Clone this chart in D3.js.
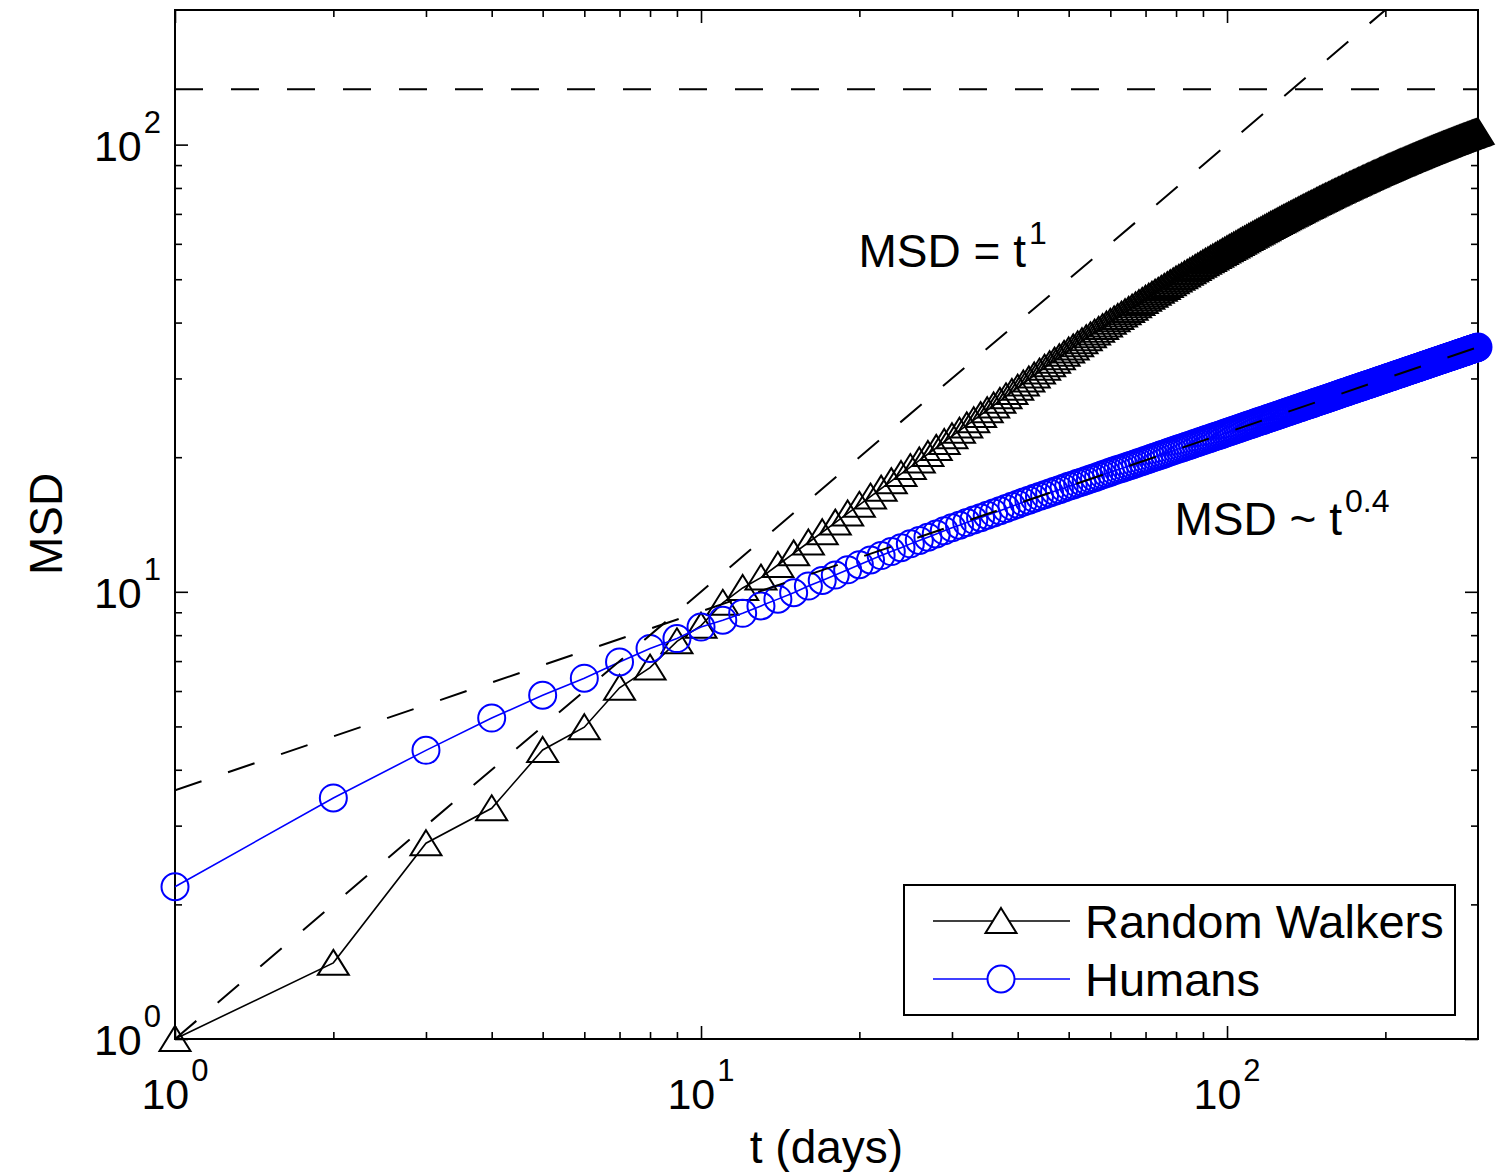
<!DOCTYPE html>
<html><head><meta charset="utf-8">
<script src="https://cdn.jsdelivr.net/npm/d3@7"></script>
<style>
body{margin:0;background:#fff}
svg{display:block}
text{font-family:"Liberation Sans",Arial,Helvetica,sans-serif;fill:#000}
</style>
</head><body>
<svg id="chart" width="1509" height="1172"></svg>
<script>
// ---------- data ----------
const days = d3.range(1, 301);
const walkers = [
1.0,1.48,2.74,3.28,4.43,4.98,6.1,6.77,7.75,8.4,9.45,10.2,
10.76,11.48,12.19,12.89,13.59,14.28,14.97,15.65,16.33,17.01,17.68,18.35,19.01,19.67,20.33,20.98,21.63,22.28,22.92,23.56,24.2,24.84,25.47,26.1,26.73,27.36,27.99,28.61,
29.23,29.85,30.46,31.08,31.7,32.29,32.88,33.46,34.05,34.64,
35.2,35.77,36.33,36.9,37.46,38.0,38.54,39.08,39.62,40.16,
40.67,41.17,41.68,42.19,42.7,43.2,43.71,44.22,44.72,45.23,
45.7,46.17,46.64,47.11,47.58,48.05,48.52,48.99,49.46,49.93,
50.37,50.8,51.24,51.68,52.12,52.55,52.99,53.43,53.86,54.3,
54.71,55.11,55.52,55.93,56.34,56.74,57.15,57.56,57.96,58.37,
58.75,59.13,59.51,59.89,60.28,60.66,61.04,61.42,61.8,62.18,
62.54,62.9,63.25,63.61,63.97,64.33,64.69,65.04,65.4,65.76,
66.1,66.43,66.77,67.11,67.45,67.78,68.12,68.46,68.79,69.13,
69.45,69.77,70.08,70.4,70.72,71.04,71.36,71.67,71.99,72.31,
72.61,72.91,73.21,73.51,73.81,74.11,74.41,74.71,75.01,75.31,
75.6,75.88,76.17,76.45,76.74,77.03,77.31,77.6,77.88,78.17,
78.44,78.71,78.98,79.25,79.52,79.79,80.06,80.33,80.6,80.87,
81.13,81.38,81.64,81.9,82.16,82.41,82.67,82.93,83.18,83.44,
83.69,83.93,84.18,84.42,84.67,84.92,85.16,85.41,85.65,85.9,
86.13,86.37,86.6,86.83,87.07,87.3,87.53,87.76,88.0,88.23,
88.45,88.68,88.9,89.13,89.35,89.57,89.8,90.02,90.25,90.47,
90.68,90.9,91.11,91.33,91.54,91.75,91.97,92.18,92.4,92.61,
92.81,93.02,93.22,93.43,93.63,93.83,94.04,94.24,94.45,94.65,
94.85,95.04,95.24,95.43,95.63,95.83,96.02,96.22,96.41,96.61,
96.8,96.99,97.17,97.36,97.55,97.74,97.93,98.11,98.3,98.49,
98.67,98.85,99.03,99.21,99.4,99.58,99.76,99.94,100.12,100.3,
100.47,100.65,100.82,100.99,101.17,101.34,101.51,101.68,101.86,102.03,
102.2,102.36,102.53,102.7,102.87,103.03,103.2,103.37,103.53,103.7,
103.86,104.02,104.18,104.34,104.5,104.66,104.82,104.98,105.14,105.3,
105.46,105.61,105.77,105.92,106.08,106.23,106.39,106.54,106.7,106.85
];
const humans = [
2.19,3.46,4.42,5.22,5.87,6.41,6.97,7.47,7.86,8.34,
8.64,8.95,9.3,9.63,9.95,10.3,10.6,10.9,11.2,11.5,
11.78,12.05,12.3,12.55,12.8,13.03,13.25,13.47,13.69,13.9,
14.09,14.28,14.47,14.65,14.84,15.0,15.18,15.35,15.53,15.7,
15.87,16.03,16.18,16.33,16.48,16.63,16.78,16.92,17.06,17.21,
17.34,17.48,17.61,17.74,17.87,18.0,18.13,18.26,18.39,18.52,
18.64,18.76,18.87,18.99,19.11,19.22,19.34,19.46,19.57,19.69,
19.8,19.91,20.02,20.13,20.24,20.34,20.45,20.56,20.67,20.78,
20.88,20.98,21.08,21.18,21.28,21.38,21.48,21.58,21.68,21.78,
21.87,21.97,22.06,22.15,22.25,22.34,22.43,22.52,22.62,22.71,
22.8,22.89,22.98,23.07,23.16,23.24,23.33,23.42,23.51,23.6,
23.68,23.77,23.85,23.93,24.02,24.1,24.18,24.26,24.35,24.43,
24.51,24.59,24.67,24.75,24.83,24.91,24.99,25.07,25.15,25.23,
25.31,25.38,25.46,25.53,25.61,25.69,25.76,25.84,25.91,25.99,
26.06,26.13,26.21,26.28,26.35,26.42,26.49,26.57,26.64,26.71,
26.78,26.85,26.92,26.99,27.06,27.13,27.2,27.27,27.34,27.41,
27.48,27.55,27.61,27.68,27.75,27.82,27.89,27.95,28.02,28.09,
28.16,28.22,28.29,28.35,28.42,28.48,28.55,28.61,28.68,28.74,
28.8,28.86,28.93,28.99,29.05,29.11,29.17,29.24,29.3,29.36,
29.42,29.48,29.54,29.6,29.67,29.73,29.79,29.85,29.91,29.97,
30.03,30.09,30.15,30.21,30.27,30.32,30.38,30.44,30.5,30.56,
30.62,30.68,30.73,30.79,30.85,30.91,30.97,31.02,31.08,31.14,
31.2,31.25,31.31,31.36,31.42,31.47,31.53,31.58,31.64,31.69,
31.75,31.8,31.86,31.91,31.97,32.02,32.08,32.13,32.19,32.24,
32.29,32.35,32.4,32.45,32.51,32.56,32.61,32.66,32.72,32.77,
32.82,32.87,32.93,32.98,33.03,33.08,33.13,33.19,33.24,33.29,
33.34,33.39,33.44,33.49,33.54,33.59,33.64,33.69,33.74,33.79,
33.84,33.89,33.94,33.99,34.04,34.09,34.14,34.19,34.24,34.29,
34.34,34.39,34.43,34.48,34.53,34.58,34.63,34.67,34.72,34.77,
34.82,34.87,34.91,34.96,35.01,35.06,35.11,35.15,35.2,35.25
];
const refDays = [1, 300];
const linearRef = [1, 300];      // MSD = t
const powerRef = [3.6, 35.25];   // MSD ~ t^0.4
const plateau = 133;             // horizontal dashed level
const majorTicks = [1, 10, 100];
const tickExponents = ["0", "1", "2"];
const xMinorTicks = [2,3,4,5,6,7,8,9,20,30,40,50,60,70,80,90,200];
const yMinorTicks = [2,3,4,5,6,7,8,9,20,30,40,50,60,70,80,90];
const legendLabels = ["Random Walkers", "Humans"];
const seriesColors = ["#000000", "#0000ff"];

// ---------- layout ----------
const L = 175, R = 1478, T = 10, B = 1039;
const svg = d3.select("#chart");
const x = d3.scaleLog().domain([1, 300]).range([L, R]);
const y = d3.scaleLog().domain([1, 200]).range([B, T]);

svg.append("defs").append("clipPath").attr("id", "plotClip")
  .append("rect").attr("x", L).attr("y", T).attr("width", R - L).attr("height", B - T);

// ticks on all four sides (inside)
function tickAxis(gen, transform, vals, size) {
  const g = svg.append("g").attr("transform", transform)
    .call(gen.tickValues(vals).tickSize(size).tickFormat(""));
  g.select(".domain").remove();
  g.selectAll("line").attr("stroke", "#000").attr("stroke-width", 1.6);
}
tickAxis(d3.axisBottom(x), `translate(0,${B})`, xMinorTicks, -7);
tickAxis(d3.axisBottom(x), `translate(0,${B})`, majorTicks, -13);
tickAxis(d3.axisTop(x), `translate(0,${T})`, xMinorTicks, -7);
tickAxis(d3.axisTop(x), `translate(0,${T})`, majorTicks, -13);
tickAxis(d3.axisLeft(y), `translate(${L},0)`, yMinorTicks, -7);
tickAxis(d3.axisLeft(y), `translate(${L},0)`, majorTicks, -13);
tickAxis(d3.axisRight(y), `translate(${R},0)`, yMinorTicks, -7);
tickAxis(d3.axisRight(y), `translate(${R},0)`, majorTicks, -13);

svg.append("rect").attr("x", L).attr("y", T).attr("width", R - L).attr("height", B - T)
  .attr("fill", "none").attr("stroke", "#000").attr("stroke-width", 2);

// tick labels
majorTicks.forEach((v, i) => {
  const tx = svg.append("text").attr("x", x(v)).attr("y", B + 70)
    .attr("text-anchor", "middle").attr("font-size", 43);
  tx.append("tspan").text("10");
  tx.append("tspan").attr("font-size", 31).attr("dx", 2).attr("dy", -28).text(tickExponents[i]);
  const ty = svg.append("text").attr("x", 161).attr("y", y(v) + 16)
    .attr("text-anchor", "end").attr("font-size", 43);
  ty.append("tspan").text("10");
  ty.append("tspan").attr("font-size", 31).attr("dx", 2).attr("dy", -28).text(tickExponents[i]);
});

// axis labels
svg.append("text").attr("transform", "translate(62,524) rotate(-90)")
  .attr("text-anchor", "middle").attr("font-size", 46).text("MSD");
svg.append("text").attr("x", (L + R) / 2).attr("y", 1163)
  .attr("text-anchor", "middle").attr("font-size", 46).text("t (days)");

// markers
const triPath = "M0,-13L15.5,12L-15.5,12Z";
function drawSeries(vals, color, marker) {
  const pts = days.map((d, i) => [x(d), y(vals[i])]);
  svg.append("path").attr("d", d3.line()(pts)).attr("fill", "none")
    .attr("stroke", color).attr("stroke-width", 1.6);
  const g = svg.append("g");
  if (marker === "tri") {
    g.selectAll("path").data(pts).join("path")
      .attr("transform", p => `translate(${p[0]},${p[1]})`)
      .attr("d", triPath).attr("fill", "none").attr("stroke", color).attr("stroke-width", 2);
  } else {
    g.selectAll("circle").data(pts).join("circle")
      .attr("cx", p => p[0]).attr("cy", p => p[1]).attr("r", 13.5)
      .attr("fill", "none").attr("stroke", color).attr("stroke-width", 2);
  }
}
drawSeries(walkers, seriesColors[0], "tri");
drawSeries(humans, seriesColors[1], "circ");

// dashed reference lines
const refG = svg.append("g").attr("clip-path", "url(#plotClip)");
const dash = "28,28";
refG.append("path").attr("d", d3.line()(refDays.map((d, i) => [x(d), y(linearRef[i])])))
  .attr("fill", "none").attr("stroke", "#000").attr("stroke-width", 2).attr("stroke-dasharray", dash);
refG.append("path").attr("d", d3.line()(refDays.map((d, i) => [x(d), y(powerRef[i])])))
  .attr("fill", "none").attr("stroke", "#000").attr("stroke-width", 2).attr("stroke-dasharray", dash);
refG.append("path").attr("d", d3.line()(refDays.map(d => [x(d), y(plateau)])))
  .attr("fill", "none").attr("stroke", "#000").attr("stroke-width", 2).attr("stroke-dasharray", dash);

// annotations
const a1 = svg.append("text").attr("x", 858.5).attr("y", 267).attr("font-size", 46);
a1.append("tspan").text("MSD = t");
a1.append("tspan").attr("font-size", 32).attr("dx", 3).attr("dy", -23).text("1");
const a2 = svg.append("text").attr("x", 1174.5).attr("y", 535).attr("font-size", 46);
a2.append("tspan").text("MSD ~ t");
a2.append("tspan").attr("font-size", 32).attr("dx", 3).attr("dy", -23).text("0.4");

// legend
const lg = svg.append("g");
lg.append("rect").attr("x", 904).attr("y", 885).attr("width", 551).attr("height", 130)
  .attr("fill", "#fff").attr("stroke", "#000").attr("stroke-width", 2);
const rows = [921, 979];
legendLabels.forEach((lab, i) => {
  lg.append("line").attr("x1", 933).attr("x2", 1070).attr("y1", rows[i]).attr("y2", rows[i])
    .attr("stroke", seriesColors[i]).attr("stroke-width", 1.6);
  if (i === 0) {
    lg.append("path").attr("transform", `translate(1001,${rows[i]})`).attr("d", triPath)
      .attr("fill", "#fff").attr("stroke", seriesColors[i]).attr("stroke-width", 2);
  } else {
    lg.append("circle").attr("cx", 1001).attr("cy", rows[i]).attr("r", 13.5)
      .attr("fill", "#fff").attr("stroke", seriesColors[i]).attr("stroke-width", 2);
  }
  lg.append("text").attr("x", 1085).attr("y", rows[i] + 17).attr("font-size", 47).text(lab);
});
</script>
</body></html>
